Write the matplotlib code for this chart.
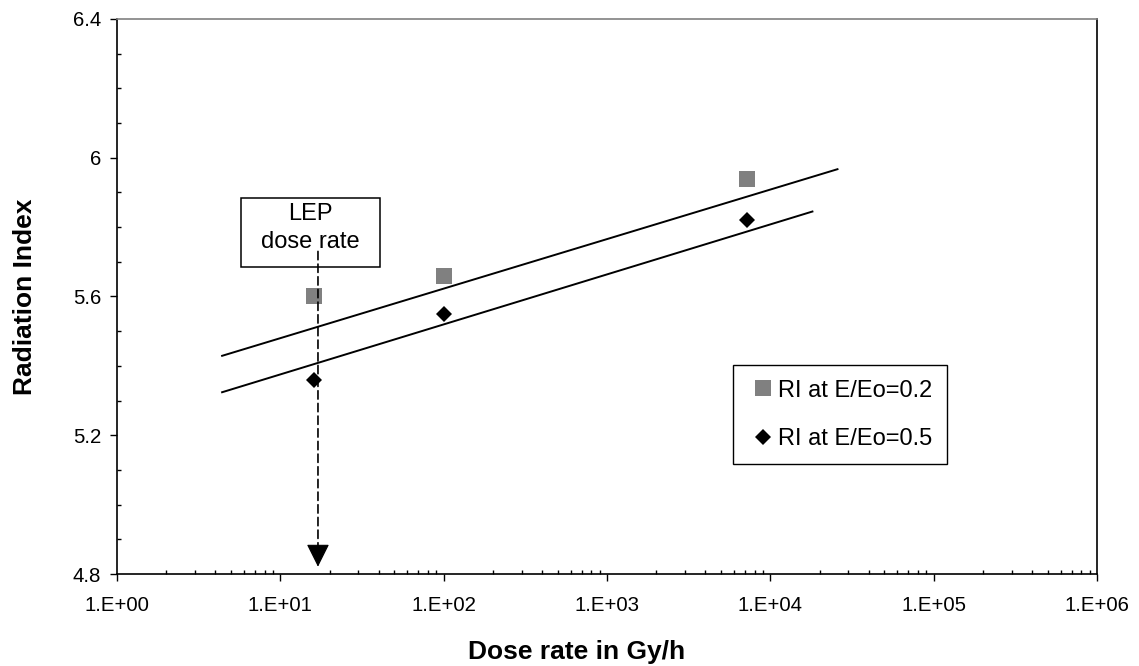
import math
import matplotlib
matplotlib.use("Agg")
import matplotlib.pyplot as plt
from matplotlib.ticker import FixedLocator, FuncFormatter, MultipleLocator, LogLocator, NullFormatter
from matplotlib.patches import Rectangle

plt.rcParams['font.family'] = ['Liberation Sans', 'DejaVu Sans']

# Measured radiation index vs dose rate
dose_rate = [16, 100, 7200]
ri_02 = [5.60, 5.66, 5.94]
ri_05 = [5.36, 5.55, 5.82]

# Logarithmic trend lines (end points)
trend_02_x = [4.4, 25770]
trend_02_y = [5.429, 5.967]
trend_05_x = [4.4, 18100]
trend_05_y = [5.324, 5.845]

# LEP dose rate marker: dashed shaft top, head base, head tip
lep_rate = 17
lep_arrow_y = [5.73, 4.879, 4.821]

x_ticks = [1e0, 1e1, 1e2, 1e3, 1e4, 1e5, 1e6]
y_ticks = [4.8, 5.2, 5.6, 6.0, 6.4]

fig = plt.figure(figsize=(11.39, 6.66), dpi=100)
ax = fig.add_axes([117 / 1139, 1 - 574 / 666, 980 / 1139, 555 / 666])

ax.set_xscale('log')
ax.set_xlim(x_ticks[0], x_ticks[-1])
ax.set_ylim(y_ticks[0], y_ticks[-1])

# trend lines
ax.plot(trend_02_x, trend_02_y, color='black', lw=1.4, zorder=2)
ax.plot(trend_05_x, trend_05_y, color='black', lw=1.4, zorder=2)

# data points
ax.plot(dose_rate, ri_02, linestyle='none', marker='s', markersize=11.3,
        color='#808080', markeredgewidth=0, label='RI at E/Eo=0.2', zorder=3)
ax.plot(dose_rate, ri_05, linestyle='none', marker='D', markersize=8.0,
        color='black', markeredgewidth=0, label='RI at E/Eo=0.5', zorder=3)

# text box
ax.add_patch(Rectangle((124 / 980, 307 / 555), 139 / 980, 69 / 555,
                       transform=ax.transAxes, facecolor='white',
                       edgecolor='black', lw=1.1, zorder=5))
ax.text(193.5 / 980, 346 / 555, 'LEP\ndose rate', transform=ax.transAxes,
        ha='center', va='center', fontsize=17, linespacing=1.3, zorder=6)

# dashed arrow at the LEP dose rate
ax.annotate('', xy=(lep_rate, lep_arrow_y[1]), xytext=(lep_rate, lep_arrow_y[0]),
            arrowprops=dict(arrowstyle='-', color='black', lw=1.2,
                            linestyle=(0, (5, 2.6)), shrinkA=0, shrinkB=0),
            zorder=7)
ax.annotate('', xy=(lep_rate, lep_arrow_y[2]), xytext=(lep_rate, lep_arrow_y[1]),
            arrowprops=dict(arrowstyle='-|>,head_length=1.0,head_width=0.5',
                            mutation_scale=14.5, color='black', lw=0.8,
                            shrinkA=0, shrinkB=0),
            zorder=7)

# axes styling
for side in ('left', 'bottom', 'right'):
    ax.spines[side].set_color('black')
    ax.spines[side].set_linewidth(1.2)
ax.spines['top'].set_color('#808080')
ax.spines['top'].set_linewidth(1.2)

ax.xaxis.set_major_locator(FixedLocator(x_ticks))
ax.xaxis.set_minor_locator(LogLocator(base=10, subs=range(2, 10), numticks=20))
ax.xaxis.set_minor_formatter(NullFormatter())
ax.xaxis.set_major_formatter(FuncFormatter(lambda v, p: '1.E+%02d' % round(math.log10(v))))

ax.yaxis.set_major_locator(FixedLocator(y_ticks))
ax.yaxis.set_minor_locator(MultipleLocator(0.1))
ax.yaxis.set_major_formatter(FuncFormatter(lambda v, p: '%g' % round(v, 1)))

ax.tick_params(which='major', direction='out', length=5, width=1.0, labelsize=14.7, color='black')
ax.tick_params(which='minor', direction='in', length=3, width=1.0, color='black')
ax.tick_params(axis='x', which='major', pad=11)
ax.tick_params(axis='y', which='major', pad=6.5)
ax.tick_params(top=False, right=False, which='both')

ax.set_xlabel('Dose rate in Gy/h', fontsize=19, fontweight='bold', va='center')
ax.xaxis.set_label_coords(0.469, -0.14)
ax.set_ylabel('Radiation Index', fontsize=19, fontweight='bold', va='center')
ax.yaxis.set_label_coords(-0.094, 0.5)

leg = ax.legend(loc='upper left', bbox_to_anchor=(616 / 980, 209 / 555),
                borderaxespad=0, fontsize=17, frameon=True, fancybox=False,
                edgecolor='black', framealpha=1, handlelength=1.3,
                handletextpad=0.0, labelspacing=1.11, borderpad=0.62,
                markerscale=1.0)
leg.get_frame().set_linewidth(1.0)

fig.savefig('out.png', dpi=100)
